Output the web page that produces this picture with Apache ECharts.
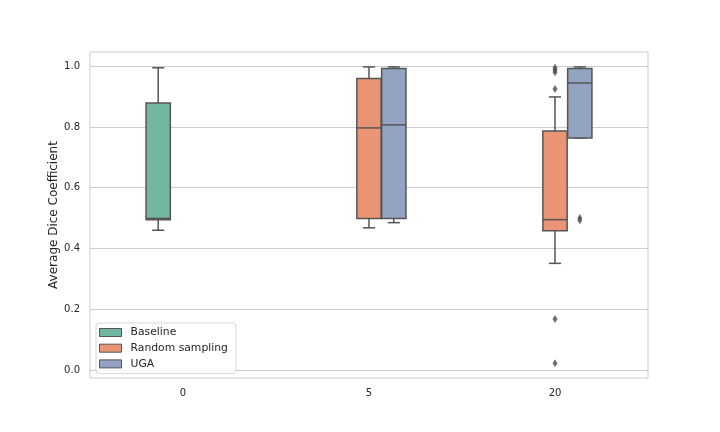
<!DOCTYPE html>
<html><head><meta charset="utf-8">
<script src="https://cdn.jsdelivr.net/npm/echarts@6/dist/echarts.min.js"></script>
<style>html,body{margin:0;padding:0;background:#fff}#c{width:720px;height:432px}</style>
</head><body><div id="c"></div>
<script>
const categories = ['0', '5', '20'];
const hues = ['Baseline', 'Random sampling', 'UGA'];
const colors = ['#71b7a1', '#e99575', '#95a3c3'];
const yTicks = [0.0, 0.2, 0.4, 0.6, 0.8, 1.0];
// [min, Q1, median, Q3, max] per category (null = absent)
const baselineBoxes = [[0.46, 0.495, 0.499, 0.879, 0.995], null, null];
const randomBoxes = [null, [0.468, 0.499, 0.797, 0.960, 0.998], [0.351, 0.458, 0.495, 0.787, 0.899]];
const ugaBoxes = [null, [0.485, 0.499, 0.807, 0.993, 0.998], [0.764, 0.764, 0.945, 0.993, 0.998]];
// outliers per category
const baselineOutliers = [[], [], []];
const randomOutliers = [[], [], [0.98, 0.988, 0.995, 0.925, 0.168, 0.022]];
const ugaOutliers = [[], [], [0.493, 0.500]];

const groupWidth = 0.4;
const hueWidth = groupWidth / hues.length;
const edge = '#555555';

function offsetFor(h) { return -groupWidth / 2 + hueWidth * (h + 0.5); }

const boxSets = [baselineBoxes, randomBoxes, ugaBoxes];
const outSets = [baselineOutliers, randomOutliers, ugaOutliers];

const series = [];
boxSets.forEach((boxes, h) => {
  const data = [];
  boxes.forEach((b, ci) => { if (b) data.push([ci + offsetFor(h)].concat(b)); });
  series.push({
    name: hues[h], type: 'custom', xAxisIndex: 1,
    itemStyle: { color: colors[h], borderColor: edge, borderWidth: 1 },
    encode: { x: 0, y: [1, 2, 3, 4, 5] },
    data: data,
    renderItem: function (params, api) {
      const x = api.value(0);
      const vals = [1, 2, 3, 4, 5].map(i => api.value(i));
      const w = api.size([hueWidth, 0])[0] * 0.98;
      const cx = api.coord([x, 0])[0];
      const py = vals.map(v => api.coord([x, v])[1]);
      const ls = { stroke: edge, lineWidth: 1.5 };
      const capW = w / 2;
      return {
        type: 'group', children: [
          { type: 'line', shape: { x1: cx, y1: py[0], x2: cx, y2: py[1] }, style: ls },
          { type: 'line', shape: { x1: cx, y1: py[3], x2: cx, y2: py[4] }, style: ls },
          { type: 'line', shape: { x1: cx - capW / 2, y1: py[0], x2: cx + capW / 2, y2: py[0] }, style: ls },
          { type: 'line', shape: { x1: cx - capW / 2, y1: py[4], x2: cx + capW / 2, y2: py[4] }, style: ls },
          { type: 'rect', shape: { x: cx - w / 2, y: py[3], width: w, height: py[1] - py[3] },
            style: { fill: colors[h], stroke: edge, lineWidth: 1.5 } },
          { type: 'line', shape: { x1: cx - w / 2, y1: py[2], x2: cx + w / 2, y2: py[2] }, style: ls }
        ]
      };
    }
  });
});
outSets.forEach((outs, h) => {
  const data = [];
  outs.forEach((arr, ci) => arr.forEach(v => data.push([ci + offsetFor(h), v])));
  if (data.length) series.push({
    name: hues[h] + ' outliers', type: 'scatter', xAxisIndex: 1,
    symbol: 'diamond', symbolSize: [5, 8],
    itemStyle: { color: '#4d4d4d' }, data: data, z: 3
  });
});

const chart = echarts.init(document.getElementById('c'), null, { renderer: 'canvas' });
chart.setOption({
  animation: false,
  backgroundColor: '#ffffff',
  textStyle: { fontFamily: 'DejaVu Sans' },
  grid: { left: 90, right: 72, top: 52, bottom: 54, show: true, borderColor: '#cccccc', borderWidth: 1, containLabel: false },
  legend: {
    data: hues, orient: 'vertical', left: 96, top: 323,
    icon: 'rect', itemWidth: 22, itemHeight: 8, itemGap: 4.7,
    padding: [4, 8, 4, 3],
    backgroundColor: 'rgba(255,255,255,0.8)', borderColor: '#d6d6d6', borderWidth: 1, borderRadius: 3,
    textStyle: { fontSize: 10.8, color: '#262626', fontFamily: 'DejaVu Sans', padding: [0, 0, 0, 4] },
    itemStyle: { borderColor: edge, borderWidth: 1 }
  },
  xAxis: [
    { type: 'category', data: categories, boundaryGap: true,
      axisLine: { show: false }, axisTick: { show: false }, splitLine: { show: false },
      axisLabel: { fontSize: 10, color: '#262626', margin: 10 } },
    { type: 'value', min: -0.5, max: 2.5, show: false }
  ],
  yAxis: {
    type: 'value', min: -0.0265, max: 1.047,
    name: 'Average Dice Coefficient', nameLocation: 'middle', nameGap: 30, nameMoveOverlap: false,
    nameTextStyle: { fontSize: 12, color: '#262626' },
    axisLine: { show: false },
    axisTick: { show: false, customValues: yTicks },
    axisLabel: { customValues: yTicks, fontSize: 10, color: '#262626', margin: 10, formatter: v => v.toFixed(1) },
    splitLine: { show: true, lineStyle: { color: '#cccccc', width: 1 } }
  },
  series: series
});
</script></body></html>
